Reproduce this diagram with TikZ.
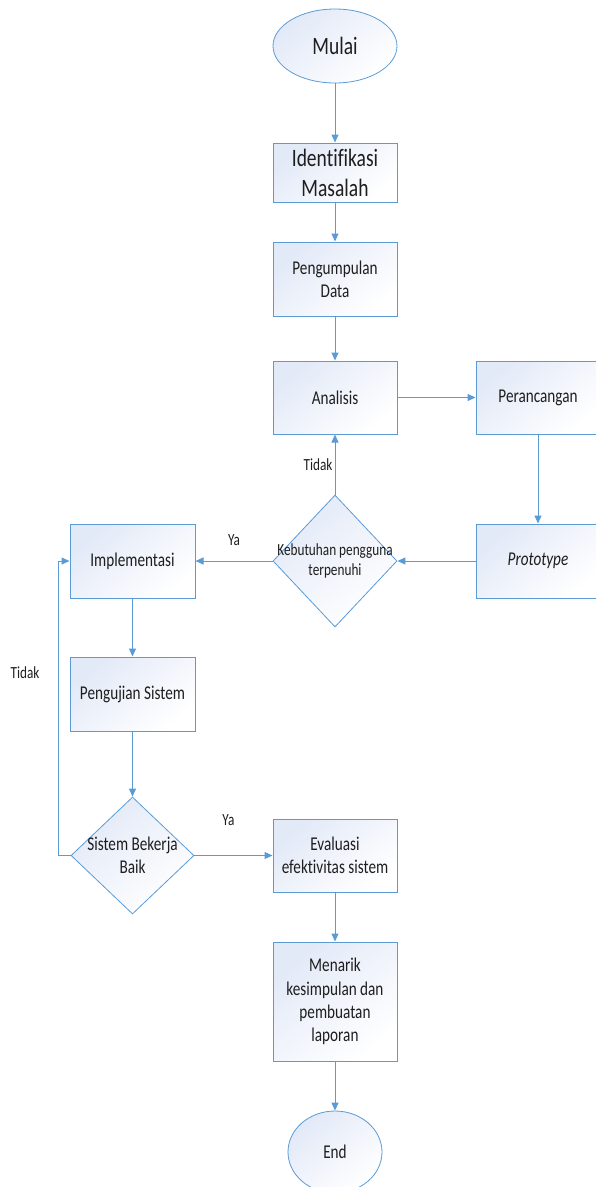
\documentclass[tikz,border=0pt]{standalone}
\usepackage{fontspec}
\setmainfont{Carlito}[FakeStretch=0.78, Ligatures=NoCommon]
\usetikzlibrary{shapes.geometric,arrows.meta}

\definecolor{garis}{RGB}{91,155,213}
\definecolor{isian}{RGB}{226,233,247}
\definecolor{tulisan}{RGB}{30,30,30}

\newcommand{\besar}{\fontsize{25}{30}\selectfont}
\newcommand{\sedang}{\fontsize{19.5}{23.4}\selectfont}
\newcommand{\kecil}{\fontsize{17}{19.6}\selectfont}

\begin{document}
\begin{tikzpicture}[x=1pt, y=-1pt, text=tulisan,
  kotak/.style={rectangle, draw=garis, line width=1pt, top color=isian, bottom color=white,
    shading angle=40, minimum width=124pt, minimum height=73pt, inner sep=1pt,
    align=center, font=\sedang},
  bulat/.style={ellipse, draw=garis, line width=0.8pt, top color=isian, bottom color=white,
    shading angle=40, inner sep=0pt, font=\sedang},
  belah/.style={diamond, draw=garis, line width=0.8pt, top color=isian, bottom color=white,
    shading angle=40, inner sep=0pt},
  link/.style={draw=garis, line width=1pt, -{Triangle[length=8pt,width=7pt]}},
  ket/.style={font=\kecil, inner sep=2pt}]

\useasboundingbox (0,0) rectangle (595,1187);

% jalur utama
\node[bulat, minimum width=124pt, minimum height=74pt, font=\besar] (mulai) at (335,46) {Mulai};
\node[kotak, minimum height=59pt, font=\besar] (ident) at (335,172.5) {Identifikasi\\Masalah};
\node[kotak, minimum height=74pt] (kumpul) at (335,279) {Pengumpulan\\Data};
\node[kotak] (analisis) at (335,397.5) {Analisis};
\node[kotak] (rancang) at (538,397.5) {Perancangan};
\node[kotak, minimum height=74pt] (proto) at (538,561) {\itshape Prototype};

\node[belah, minimum width=124pt, minimum height=132pt,
  label={[font=\kecil, align=center]center:Kebutuhan pengguna\\terpenuhi}] (butuh) at (335,561) {};

\node[kotak, minimum width=125pt, minimum height=74pt] (impl) at (132.5,561) {Implementasi};
\node[kotak, minimum width=125pt, minimum height=74pt] (uji) at (132.5,694) {Pengujian Sistem};

\node[belah, minimum width=123pt, minimum height=117pt,
  label={[font=\sedang, align=center]center:Sistem Bekerja\\Baik}] (kerja) at (132.5,855.5) {};

\node[kotak] (eval) at (335,855.5) {Evaluasi\\efektivitas sistem};
\node[kotak, minimum height=119pt] (tarik) at (335,1001.5) {Menarik\\kesimpulan dan\\pembuatan\\laporan};
\node[bulat, minimum width=94pt, minimum height=82pt] (selesai) at (335,1152) {End};

\coordinate (balik) at (58,855.5);

\begin{scope}[link]
\draw (mulai) -- (ident);
\draw (ident) -- (kumpul);
\draw (kumpul) -- (analisis);
\draw (analisis) -- (rancang);
\draw (rancang) -- (proto);
\draw (proto) -- (butuh);
\draw (butuh) -- (analisis) node[ket, midway, left] (tidaka) {Tidak};
\draw (butuh) -- (impl) node[ket, midway, yshift=21pt] (yaa) {Ya};
\draw (impl) -- (uji);
\draw (uji) -- (kerja);
\draw (kerja) -- (eval) node[ket, midway, xshift=-5pt, yshift=35pt] (yab) {Ya};
\draw (kerja.west) -- (balik) |- (impl.west) node[ket, pos=0.31, left=16pt] (tidakb) {Tidak};
\draw (eval) -- (tarik);
\draw (tarik) -- (selesai);
\end{scope}

\end{tikzpicture}
\end{document}
